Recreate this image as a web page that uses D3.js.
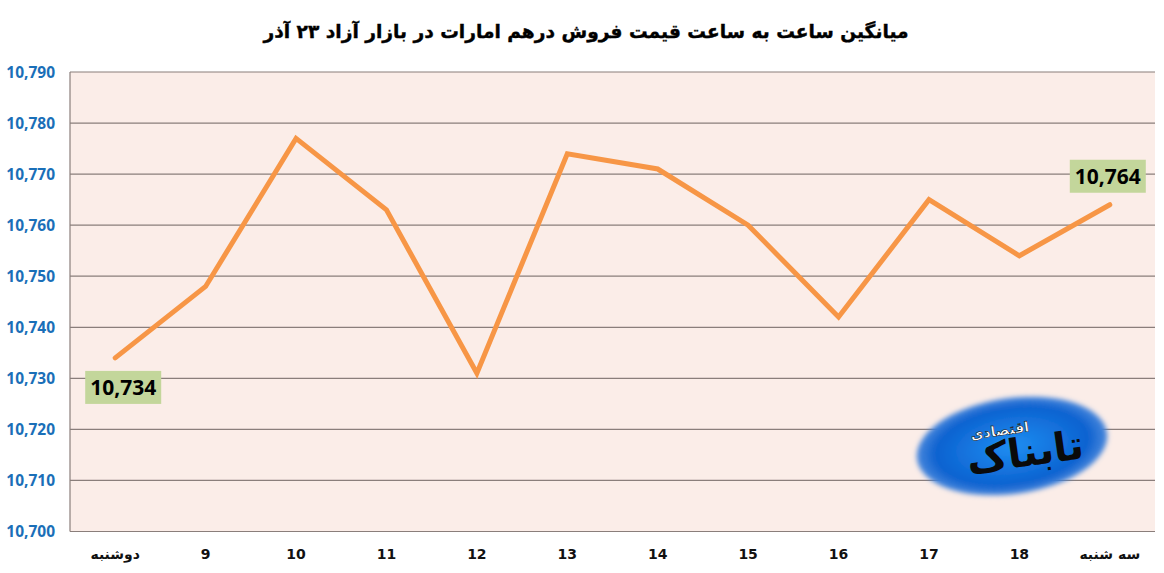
<!DOCTYPE html>
<html><head><meta charset="utf-8">
<script src="https://cdn.jsdelivr.net/npm/d3@7"></script>
<style>body{margin:0;background:#fff;}svg{display:block;}</style>
</head><body>
<svg id="c" width="1164" height="573"></svg>
<script>
const title = "میانگین ساعت به ساعت قیمت فروش درهم امارات در بازار آزاد ۲۳ آذر";
const categories = ["دوشنبه","9","10","11","12","13","14","15","16","17","18","سه شنبه"];
const values = [10734,10748,10777,10763,10731,10774,10771,10760,10742,10765,10754,10764];
const yTicks = [10700,10710,10720,10730,10740,10750,10760,10770,10780,10790];

const svg = d3.select("#c");
const L = 70, R = 1155, T = 72, B = 531.5;
const x = d3.scalePoint().domain(categories).range([L, R]).padding(0.5);
const y = d3.scaleLinear().domain([10700, 10790]).range([B, T]);
const fmt = d3.format(",");

svg.append("rect").attr("x", L).attr("y", T).attr("width", R - L).attr("height", B - T).attr("fill", "#fbede8");

svg.append("g").selectAll("line").data(yTicks).join("line")
  .attr("x1", L).attr("x2", R).attr("y1", d => y(d)).attr("y2", d => y(d))
  .attr("stroke", "#8a7e7b").attr("stroke-width", 1.2);
svg.append("line").attr("x1", L).attr("x2", L).attr("y1", T).attr("y2", B).attr("stroke", "#8a7e7b").attr("stroke-width", 1.2);

svg.append("g").selectAll("text").data(yTicks).join("text")
  .attr("x", 55).attr("y", d => y(d) + 5.5).attr("text-anchor", "end")
  .attr("font-family", "Open Sans, sans-serif").attr("font-weight", "bold").attr("font-size", 15.5)
  .attr("fill", "#1a6fb8").text(d => fmt(d));

svg.append("g").selectAll("text").data(categories).join("text")
  .attr("x", d => x(d)).attr("y", 559).attr("text-anchor", "middle")
  .attr("font-family", "DejaVu Sans, sans-serif").attr("font-weight", "bold").attr("font-size", 14)
  .attr("fill", "#111").attr("direction", "rtl").text(d => d);

svg.append("text").attr("x", 586).attr("y", 38).attr("text-anchor", "middle")
  .attr("font-family", "DejaVu Sans, sans-serif").attr("font-weight", "bold").attr("font-size", 18.6)
  .attr("direction", "rtl").attr("fill", "#000").attr("stroke", "#000").attr("stroke-width", 0.4).text(title);

// logo
const defs = svg.append("defs");
const rg = defs.append("radialGradient").attr("id", "lg");
rg.append("stop").attr("offset", "0%").attr("stop-color", "#1e8ef2");
rg.append("stop").attr("offset", "80%").attr("stop-color", "#0d62d0");
rg.append("stop").attr("offset", "100%").attr("stop-color", "#4a88dc");
defs.append("filter").attr("id", "bl").append("feGaussianBlur").attr("stdDeviation", 2.5);
const logo = svg.append("g").attr("transform", "translate(1012,446) rotate(-8)");
logo.append("ellipse").attr("rx", 96).attr("ry", 48).attr("fill", "url(#lg)").attr("filter", "url(#bl)");
logo.append("text").attr("x", 12).attr("y", 22).attr("text-anchor", "middle").attr("direction", "rtl")
  .attr("font-family", "DejaVu Sans, sans-serif").attr("font-weight", "bold").attr("font-size", 40)
  .attr("fill", "#0a0a0a").text("تابناک");
logo.append("text").attr("x", -10).attr("y", -12).attr("text-anchor", "middle").attr("direction", "rtl")
  .attr("font-family", "DejaVu Sans, sans-serif").attr("font-weight", "bold").attr("font-size", 14)
  .attr("fill", "#fff").attr("stroke", "#000").attr("stroke-width", 0.5).text("اقتصادی");

const line = d3.line().x((d, i) => x(categories[i])).y(d => y(d));
svg.append("path").datum(values).attr("d", line).attr("fill", "none")
  .attr("stroke", "#f79646").attr("stroke-width", 5).attr("stroke-linecap", "round").attr("stroke-linejoin", "miter");

const lbl = [{i: 0, dx: 8, dy: 29.5}, {i: 11, dx: -2, dy: -28.5}];
lbl.forEach(o => {
  const cx = x(categories[o.i]) + o.dx, cy = y(values[o.i]) + o.dy;
  svg.append("rect").attr("x", cx - 38).attr("y", cy - 16.5).attr("width", 76).attr("height", 33).attr("fill", "#c3d69b");
  svg.append("text").attr("x", cx).attr("y", cy + 8).attr("text-anchor", "middle")
    .attr("font-family", "Open Sans, sans-serif").attr("font-weight", "bold").attr("font-size", 21)
    .attr("fill", "#000").text(fmt(values[o.i]));
});
</script>
</body></html>
